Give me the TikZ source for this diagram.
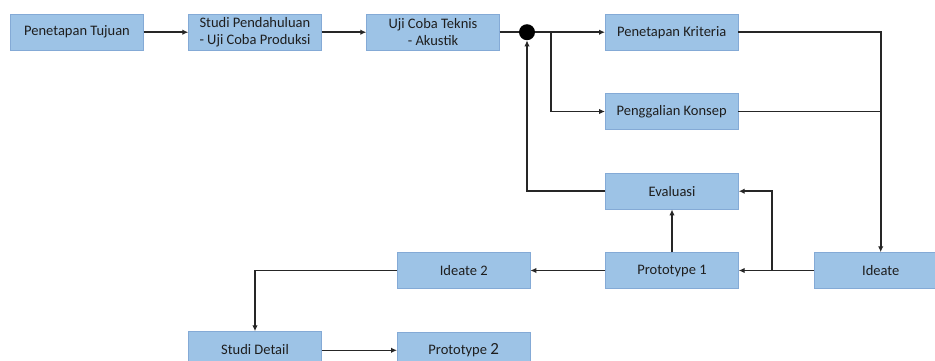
\documentclass[tikz,border=0pt]{standalone}
\usepackage{fontspec}
\setmainfont{Carlito}
\usetikzlibrary{arrows.meta}
\definecolor{boxfill}{RGB}{157,195,230}
\definecolor{boxdraw}{RGB}{132,170,214}
\definecolor{txt}{RGB}{30,30,30}
\begin{document}
\begin{tikzpicture}[x=1pt,y=-1pt,
  box/.style={draw=boxdraw, fill=boxfill, line width=0.8pt, minimum width=132.6pt, minimum height=35.7pt, inner sep=0pt, font=\fontsize{14.5}{17}\selectfont, text=txt},
  conn/.style={line width=1.6pt, draw=black!85},
  arr/.style={conn, -{Latex[length=6pt,width=5.5pt]}}]
\useasboundingbox (0,0) rectangle (935,360);
\clip (0,0) rectangle (935,360);
\node[box] (tujuan) at (77,32.2) {Penetapan Tujuan};
\node[box, align=left] (studi) at (255,32.2) {Studi Pendahuluan\\- Uji Coba Produksi};
\node[box, align=center] (uji) at (433,32.2) {Uji Coba Teknis\\- Akustik};
\node[circle, fill=black, minimum size=16pt, inner sep=0pt] (dot) at (527,32.2) {};
\node[box] (krit) at (671.7,32.2) {Penetapan Kriteria};
\node[box] (konsep) at (671.7,111.5) {Penggalian Konsep};
\node[box] (eval) at (672,191.2) {Evaluasi};
\node[box] (proto1) at (672,270.5) {Prototype 1};
\node[box] (ideate) at (880.7,270.5) {Ideate};
\node[box] (ideate2) at (463.7,270.5) {Ideate 2};
\node[box] (detail) at (255,349.5) {Studi Detail};
\node[box] (proto2) at (463.7,350.3) {Prototype {\fontsize{17}{17}\selectfont 2}};
\coordinate (br) at (551,32.2);
\coordinate (br2) at (771.7,270.5);
\draw[arr] (tujuan) -- (studi);
\draw[arr] (studi) -- (uji);
\draw[conn] (uji) -- (dot);
\draw[arr] (dot) -- (krit);
\draw[arr] (br) |- (konsep);
\draw[arr] (krit) -| (ideate);
\draw[conn] (konsep) -- (konsep -| ideate);
\draw[arr] (proto1) -- (eval);
\draw[arr] (ideate) -- (proto1);
\draw[arr] (br2) |- (eval);
\draw[arr] (eval) -| (dot);
\draw[arr] (proto1) -- (ideate2);
\draw[arr] (ideate2) -| (detail);
\draw[arr] (detail.east |- proto2) -- (proto2);
\end{tikzpicture}
\end{document}
